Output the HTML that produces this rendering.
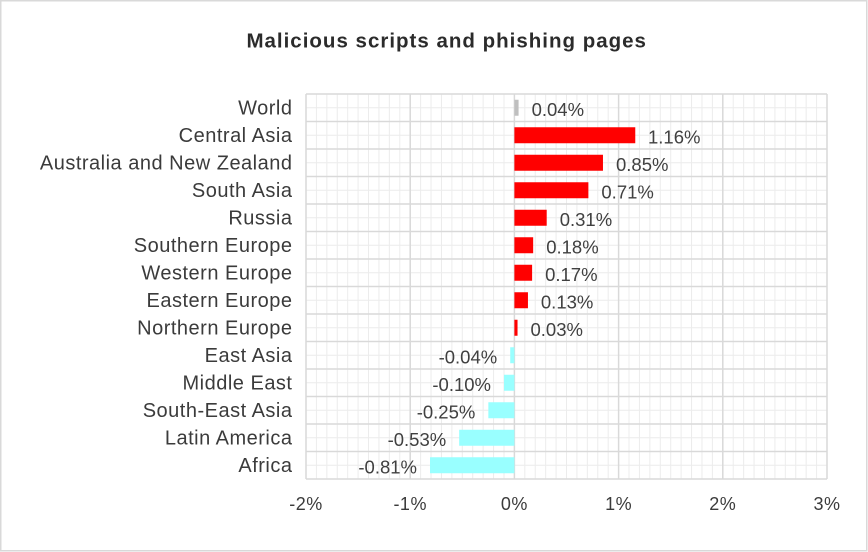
<!DOCTYPE html>
<html>
<head>
<meta charset="utf-8">
<style>
html,body{margin:0;padding:0;background:#fff;}
svg{display:block;}
text{font-family:"Liberation Sans",Arial,sans-serif;}
</style>
</head>
<body>
<svg width="868" height="552" viewBox="0 0 868 552" xmlns="http://www.w3.org/2000/svg">
<rect x="0" y="0" width="868" height="552" fill="#fff"/>
<rect x="0.75" y="0.75" width="866" height="550" fill="none" stroke="#d9d9d9" stroke-width="1.5"/>

<!-- title -->
<text x="446.7" y="47.3" text-anchor="middle" font-size="20.5" font-weight="bold" fill="#2b2b2b" letter-spacing="1">Malicious scripts and phishing pages</text>

<!-- minor grid -->
<path fill="none" stroke="#ececec" stroke-width="1" d="
M316.42 94V479M326.84 94V479M337.26 94V479M347.68 94V479M358.1 94V479M368.52 94V479M378.94 94V479M389.36 94V479M399.78 94V479
M420.62 94V479M431.04 94V479M441.46 94V479M451.88 94V479M462.3 94V479M472.72 94V479M483.14 94V479M493.56 94V479M503.98 94V479
M524.82 94V479M535.24 94V479M545.66 94V479M556.08 94V479M566.5 94V479M576.92 94V479M587.34 94V479M597.76 94V479M608.18 94V479
M629.02 94V479M639.44 94V479M649.86 94V479M660.28 94V479M670.7 94V479M681.12 94V479M691.54 94V479M701.96 94V479M712.38 94V479
M733.22 94V479M743.64 94V479M754.06 94V479M764.48 94V479M774.9 94V479M785.32 94V479M795.74 94V479M806.16 94V479M816.58 94V479
M306 107.75H827M306 135.25H827M306 162.75H827M306 190.25H827M306 217.75H827M306 245.25H827M306 272.75H827
M306 300.25H827M306 327.75H827M306 355.25H827M306 382.75H827M306 410.25H827M306 437.75H827M306 465.25H827"/>

<!-- major grid -->
<path fill="none" stroke="#d9d9d9" stroke-width="1.5" d="
M306 94V479M410.2 94V479M514.4 94V479M618.6 94V479M722.8 94V479M827 94V479
M306 94H827M306 121.5H827M306 149H827M306 176.5H827M306 204H827M306 231.5H827M306 259H827M306 286.5H827
M306 314H827M306 341.5H827M306 369H827M306 396.5H827M306 424H827M306 451.5H827M306 479H827"/>

<!-- bars -->
<rect x="514.4" y="99.75" width="4.17" height="16" fill="#bfbfbf"/>
<rect x="514.4" y="127.25" width="120.87" height="16" fill="#ff0000"/>
<rect x="514.4" y="154.75" width="88.57" height="16" fill="#ff0000"/>
<rect x="514.4" y="182.25" width="73.98" height="16" fill="#ff0000"/>
<rect x="514.4" y="209.75" width="32.3" height="16" fill="#ff0000"/>
<rect x="514.4" y="237.25" width="18.76" height="16" fill="#ff0000"/>
<rect x="514.4" y="264.75" width="17.71" height="16" fill="#ff0000"/>
<rect x="514.4" y="292.25" width="13.55" height="16" fill="#ff0000"/>
<rect x="514.4" y="319.75" width="3.13" height="16" fill="#ff0000"/>
<rect x="510.23" y="347.25" width="4.17" height="16" fill="#99ffff"/>
<rect x="503.98" y="374.75" width="10.42" height="16" fill="#99ffff"/>
<rect x="488.35" y="402.25" width="26.05" height="16" fill="#99ffff"/>
<rect x="459.17" y="429.75" width="55.23" height="16" fill="#99ffff"/>
<rect x="430" y="457.25" width="84.4" height="16" fill="#99ffff"/>

<!-- value labels -->
<g font-size="18.5" fill="#404040">
<text x="531.6" y="115.75">0.04%</text>
<text x="648" y="143.25">1.16%</text>
<text x="616" y="170.75">0.85%</text>
<text x="601.4" y="198.25">0.71%</text>
<text x="559.7" y="225.75">0.31%</text>
<text x="546.2" y="253.25">0.18%</text>
<text x="545.1" y="280.75">0.17%</text>
<text x="540.9" y="308.25">0.13%</text>
<text x="530.5" y="335.75">0.03%</text>
</g>
<g font-size="18.5" fill="#404040" text-anchor="end">
<text x="497.2" y="363.25">-0.04%</text>
<text x="491" y="390.75">-0.10%</text>
<text x="475.35" y="418.25">-0.25%</text>
<text x="446.2" y="445.75">-0.53%</text>
<text x="417" y="473.25">-0.81%</text>
</g>

<!-- category labels -->
<g font-size="20" fill="#3b3b3b" text-anchor="end" letter-spacing="0.5">
<text x="292.5" y="114.25">World</text>
<text x="292.5" y="141.75">Central Asia</text>
<text x="292.5" y="169.25">Australia and New Zealand</text>
<text x="292.5" y="196.75">South Asia</text>
<text x="292.5" y="224.25">Russia</text>
<text x="292.5" y="251.75">Southern Europe</text>
<text x="292.5" y="279.25">Western Europe</text>
<text x="292.5" y="306.75">Eastern Europe</text>
<text x="292.5" y="334.25">Northern Europe</text>
<text x="292.5" y="361.75">East Asia</text>
<text x="292.5" y="389.25">Middle East</text>
<text x="292.5" y="416.75">South-East Asia</text>
<text x="292.5" y="444.25">Latin America</text>
<text x="292.5" y="471.75">Africa</text>
</g>

<!-- axis tick labels -->
<g font-size="18" fill="#3b3b3b" text-anchor="middle" letter-spacing="0.5">
<text x="306" y="510">-2%</text>
<text x="410.2" y="510">-1%</text>
<text x="514.4" y="510">0%</text>
<text x="618.6" y="510">1%</text>
<text x="722.8" y="510">2%</text>
<text x="827" y="510">3%</text>
</g>
</svg>
</body>
</html>
